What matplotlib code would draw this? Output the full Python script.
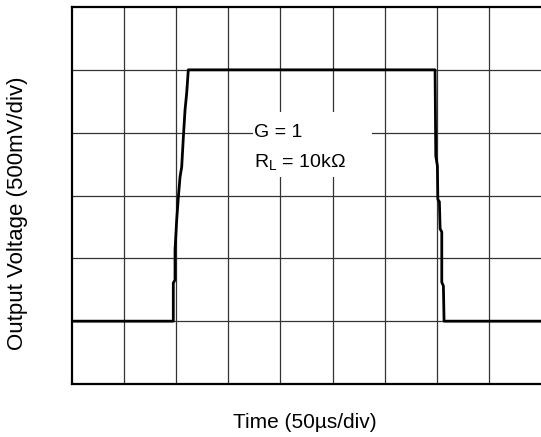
import matplotlib
matplotlib.use('Agg')
import matplotlib.pyplot as plt
from matplotlib.patches import Rectangle

plt.rcParams['font.family'] = ['Liberation Sans', 'DejaVu Sans']
plt.rcParams['mathtext.fontset'] = 'custom'
plt.rcParams['mathtext.rm'] = 'Liberation Sans'
plt.rcParams['mathtext.it'] = 'Liberation Sans'

# scope trace, in divisions (x: 50us/div, y: 500mV/div)
t_div = [0.0, 1.944, 1.944, 1.977, 1.977, 2.009, 2.041, 2.073, 2.105, 2.137,
         2.169, 2.201, 2.232, 6.967, 6.981, 7.012, 7.020, 7.050, 7.064, 7.096,
         7.096, 7.127, 7.140, 9.0]
v_div = [1.0, 1.0, 1.607, 1.655, 2.133, 2.610, 2.976, 3.295, 3.454, 3.931,
         4.361, 4.632, 5.0, 5.0, 3.63, 3.47, 2.94, 2.90, 2.47, 2.42,
         1.62, 1.56, 1.0, 1.0]

n_x_div = 9
n_y_div = 6

fig = plt.figure(figsize=(5.41, 4.37), dpi=100)
ax = fig.add_axes([72/541, 53/437, 469/541, 377/437])

ax.set_xlim(0, n_x_div)
ax.set_ylim(0, n_y_div)

# graticule
for i in range(1, n_x_div):
    ax.axvline(i, color='#333333', lw=0.9, zorder=1)
for j in range(1, n_y_div):
    ax.axhline(j, color='#333333', lw=0.9, zorder=1)

# trace
ax.plot(t_div, v_div, color='black', lw=2.0, zorder=3)

# annotation box (hides the grid behind the text)
ax.add_patch(Rectangle((3.474, 3.295), 2.284, 1.034, facecolor='white',
                       edgecolor='none', zorder=2))
ax.text(3.49, 4.0, 'G = 1', fontsize=14, va='center', ha='left', zorder=4)
ax.text(3.49, 3.53, r'R$_\mathrm{L}$ = 10k$\Omega$', fontsize=14,
        va='center', ha='left', zorder=4)

ax.set_xticks([])
ax.set_yticks([])
for s in ['left', 'top', 'bottom']:
    ax.spines[s].set_linewidth(1.6)
ax.spines['right'].set_visible(False)

fig.text(305/541, 1 - 423/437, 'Time (50\u00b5s/div)', fontsize=15,
         ha='center', va='center')
fig.text(18/541, 1 - 213/437, 'Output Voltage (500mV/div)', fontsize=16,
         ha='center', va='center', rotation=90)

fig.savefig('out.png', dpi=100)
